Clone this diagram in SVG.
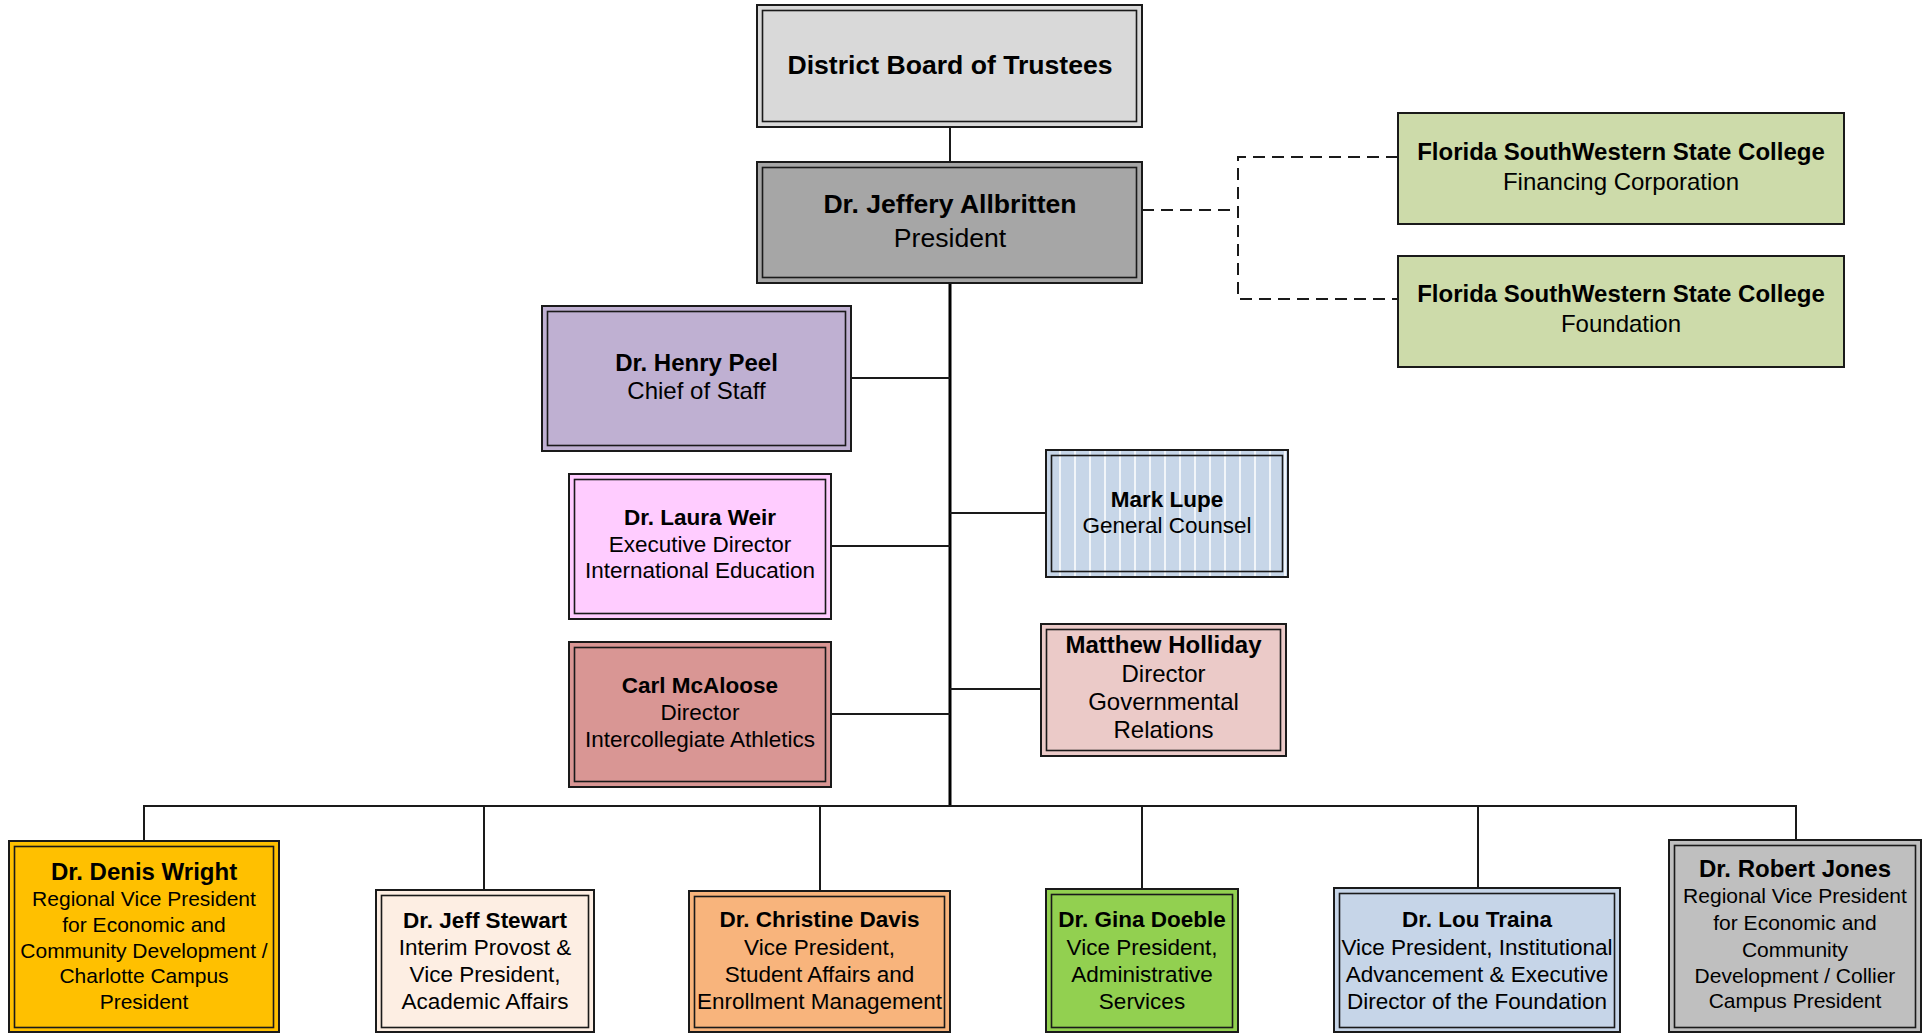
<svg xmlns="http://www.w3.org/2000/svg" width="1929" height="1034" viewBox="0 0 1929 1034">
<defs>
<pattern id="stripes" patternUnits="userSpaceOnUse" x="0" y="0" width="15" height="20">
<rect x="0" y="0" width="15" height="20" fill="#c7d6e8"/>
<rect x="9" y="0" width="2" height="20" fill="#ffffff" fill-opacity="0.75"/>
</pattern>
<style>
.o{stroke:#1a1a1a;stroke-width:2}
.i{fill:none;stroke:#1a1a1a;stroke-width:1.6}
.s{stroke:#1a1a1a;stroke-width:2}
text{font-family:"Liberation Sans",Arial,sans-serif;text-anchor:middle;fill:#000}
.b{font-weight:bold}
.t26{font-size:26.6px}
.t24{font-size:24px}
.t22{font-size:22.5px}
.t21{font-size:21px}
.ln{fill:none;stroke:#1a1a1a;stroke-width:2}
.tr{fill:none;stroke:#000;stroke-width:3}
.dash{fill:none;stroke:#1a1a1a;stroke-width:2;stroke-dasharray:12 7}
</style>
</defs>
<rect width="1929" height="1034" fill="#ffffff"/>

<g id="connectors">
<line class="ln" x1="950" y1="127" x2="950" y2="162"/>
<line class="tr" x1="950" y1="283" x2="950" y2="807"/>
<line class="ln" x1="851" y1="378" x2="950" y2="378"/>
<line class="ln" x1="831" y1="546" x2="950" y2="546"/>
<line class="ln" x1="831" y1="714" x2="950" y2="714"/>
<line class="ln" x1="950" y1="513" x2="1046" y2="513"/>
<line class="ln" x1="950" y1="689" x2="1041" y2="689"/>
<polyline class="ln" points="144,841 144,806 1796,806 1796,840"/>
<line class="ln" x1="484" y1="806" x2="484" y2="890"/>
<line class="ln" x1="820" y1="806" x2="820" y2="891"/>
<line class="ln" x1="1142" y1="806" x2="1142" y2="889"/>
<line class="ln" x1="1478" y1="806" x2="1478" y2="888"/>
<line class="dash" x1="1142" y1="210" x2="1238" y2="210"/>
<polyline class="dash" points="1398,157 1238,157 1238,299 1398,299"/>
</g>

<g id="board">
<rect class="o" x="757" y="5" width="385" height="122" fill="#d9d9d9"/>
<rect class="i" x="762.5" y="10.5" width="374" height="111"/>
<text class="b t26" x="950" y="74">District Board of Trustees</text>
</g>

<g id="president">
<rect class="o" x="757" y="162" width="385" height="121" fill="#a6a6a6"/>
<rect class="i" x="762.5" y="167.5" width="374" height="110"/>
<text class="b t26" x="950" y="213">Dr. Jeffery Allbritten</text>
<text class="t26" x="950" y="247">President</text>
</g>

<g id="financing">
<rect class="s" x="1398" y="113" width="446" height="111" fill="#cddbaa"/>
<text class="b t24" x="1621" y="160">Florida SouthWestern State College</text>
<text class="t24" x="1621" y="190">Financing Corporation</text>
</g>

<g id="foundation">
<rect class="s" x="1398" y="256" width="446" height="111" fill="#cddbaa"/>
<text class="b t24" x="1621" y="302">Florida SouthWestern State College</text>
<text class="t24" x="1621" y="332">Foundation</text>
</g>

<g id="peel">
<rect class="o" x="542" y="306" width="309" height="145" fill="#bfb0d2"/>
<rect class="i" x="547.5" y="311.5" width="298" height="134"/>
<text class="b t24" x="696.5" y="371">Dr. Henry Peel</text>
<text class="t24" x="696.5" y="399">Chief of Staff</text>
</g>

<g id="weir">
<rect class="o" x="569" y="474" width="262" height="145" fill="#ffccff"/>
<rect class="i" x="574.5" y="479.5" width="251" height="134"/>
<text class="b t22" x="700" y="525">Dr. Laura Weir</text>
<text class="t22" x="700" y="552">Executive Director</text>
<text class="t22" x="700" y="578">International Education</text>
</g>

<g id="mcaloose">
<rect class="o" x="569" y="642" width="262" height="145" fill="#d99694"/>
<rect class="i" x="574.5" y="647.5" width="251" height="134"/>
<text class="b t22" x="700" y="693">Carl McAloose</text>
<text class="t22" x="700" y="720">Director</text>
<text class="t22" x="700" y="747">Intercollegiate Athletics</text>
</g>

<g id="lupe">
<rect class="o" x="1046" y="450" width="242" height="127" fill="url(#stripes)"/>
<rect class="i" x="1051.5" y="455.5" width="231" height="116"/>
<text class="b t22" x="1167" y="507">Mark Lupe</text>
<text class="t22" x="1167" y="533">General Counsel</text>
</g>

<g id="holliday">
<rect class="o" x="1041" y="624" width="245" height="132" fill="#ebcac8"/>
<rect class="i" x="1046.5" y="629.5" width="234" height="121"/>
<text class="b t24" x="1163.5" y="653">Matthew Holliday</text>
<text class="t24" x="1163.5" y="682">Director</text>
<text class="t24" x="1163.5" y="710">Governmental</text>
<text class="t24" x="1163.5" y="738">Relations</text>
</g>

<g id="wright">
<rect class="o" x="9" y="841" width="270" height="191" fill="#ffc000"/>
<rect class="i" x="14.5" y="846.5" width="259" height="181"/>
<text class="b t24" x="144" y="880">Dr. Denis Wright</text>
<text class="t21" x="144" y="906">Regional Vice President</text>
<text class="t21" x="144" y="932">for Economic and</text>
<text class="t21" x="144" y="957.5">Community Development /</text>
<text class="t21" x="144" y="983">Charlotte Campus</text>
<text class="t21" x="144" y="1009">President</text>
</g>

<g id="stewart">
<rect class="o" x="376" y="890" width="218" height="142" fill="#fdeee3"/>
<rect class="i" x="381.5" y="895.5" width="207" height="132"/>
<text class="b t22" x="485" y="928">Dr. Jeff Stewart</text>
<text class="t22" x="485" y="955">Interim Provost &amp;</text>
<text class="t22" x="485" y="982">Vice President,</text>
<text class="t22" x="485" y="1009">Academic Affairs</text>
</g>

<g id="davis">
<rect class="o" x="689" y="891" width="261" height="141" fill="#f8b47c"/>
<rect class="i" x="694.5" y="896.5" width="250" height="131"/>
<text class="b t22" x="819.5" y="927">Dr. Christine Davis</text>
<text class="t22" x="819.5" y="955">Vice President,</text>
<text class="t22" x="819.5" y="982">Student Affairs and</text>
<text class="t22" x="819.5" y="1009">Enrollment Management</text>
</g>

<g id="doeble">
<rect class="o" x="1046" y="889" width="192" height="143" fill="#92d050"/>
<rect class="i" x="1051.5" y="894.5" width="181" height="133"/>
<text class="b t22" x="1142" y="927">Dr. Gina Doeble</text>
<text class="t22" x="1142" y="955">Vice President,</text>
<text class="t22" x="1142" y="982">Administrative</text>
<text class="t22" x="1142" y="1009">Services</text>
</g>

<g id="traina">
<rect class="o" x="1334" y="888" width="286" height="144" fill="#c6d5e8"/>
<rect class="i" x="1339.5" y="893.5" width="275" height="134"/>
<text class="b t22" x="1477" y="927">Dr. Lou Traina</text>
<text class="t22" x="1477" y="955">Vice President, Institutional</text>
<text class="t22" x="1477" y="982">Advancement &amp; Executive</text>
<text class="t22" x="1477" y="1009">Director of the Foundation</text>
</g>

<g id="jones">
<rect class="o" x="1669" y="840" width="252" height="192" fill="#bfbfbf"/>
<rect class="i" x="1674.5" y="845.5" width="241" height="182"/>
<text class="b t24" x="1795" y="877">Dr. Robert Jones</text>
<text class="t21" x="1795" y="903">Regional Vice President</text>
<text class="t21" x="1795" y="930">for Economic and</text>
<text class="t21" x="1795" y="957">Community</text>
<text class="t21" x="1795" y="983">Development / Collier</text>
<text class="t21" x="1795" y="1008">Campus President</text>
</g>
</svg>
